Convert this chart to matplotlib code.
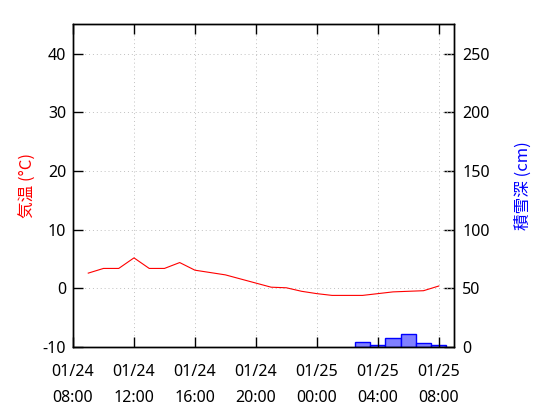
import matplotlib
matplotlib.use("Agg")
import matplotlib.pyplot as plt

plt.rcParams['font.family'] = ['Noto Sans', 'Noto Sans CJK JP', 'DejaVu Sans']
plt.rcParams['axes.unicode_minus'] = False

# hours after 01/24 08:00
temp_hours = list(range(1, 25))
temp_values = [2.6, 3.4, 3.4, 5.2, 3.4, 3.4, 4.4, 3.1, 2.7, 2.3, 1.6, 0.9,
               0.2, 0.1, -0.5, -0.9, -1.2, -1.2, -1.2, -0.9, -0.6, -0.5, -0.4, 0.4]

snow_hours = [19, 20, 21, 22, 23, 24]
snow_values = [4, 2, 8, 11, 3, 2]

tick_hours = [0, 4, 8, 12, 16, 20, 24]
tick_labels = ['01/24\n08:00', '01/24\n12:00', '01/24\n16:00', '01/24\n20:00',
               '01/25\n00:00', '01/25\n04:00', '01/25\n08:00']

fig = plt.figure(figsize=(5.6, 4.2), dpi=100)
ax = fig.add_axes([0.1304, 0.1738, 0.6803, 0.7679])
ax2 = ax.twinx()

ax.set_zorder(ax2.get_zorder() + 1)
ax.patch.set_visible(False)

ax2.bar(snow_hours, snow_values, width=1.0, color='#8080ff', edgecolor='#0000ff', linewidth=1.0)
ax.plot(temp_hours, temp_values, color='#ff0000', linewidth=0.8)

ax.set_xlim(0, 25)
ax.set_ylim(-10, 45)
ax2.set_ylim(0, 275)

ax.set_xticks(tick_hours)
ax.set_xticklabels(tick_labels, linespacing=1.85)
ax.set_yticks(range(-10, 41, 10))
ax2.set_yticks(range(0, 251, 50))

ax.grid(True, linestyle=(0, (1, 3)), color='#c0c0c0', linewidth=0.7)

ax.tick_params(axis='x', direction='in', length=7, width=1, top=True, labelsize=11.5, pad=12)
ax.tick_params(axis='y', direction='in', length=7, width=1, labelsize=11.5, pad=5)
ax2.tick_params(axis='y', direction='in', length=7, width=1, labelsize=11.5, pad=6)

for a in (ax, ax2):
    for s in a.spines.values():
        s.set_linewidth(1.0)

ax.set_ylabel('気温 (°C)', color='#ff0000', fontsize=12,
              family=['Noto Sans CJK JP', 'DejaVu Sans'], labelpad=4)
ax2.set_ylabel('積雪深 (cm)', color='#0000ff', fontsize=12,
               family=['Noto Sans CJK JP', 'DejaVu Sans'], labelpad=18)

fig.savefig('out.png', dpi=100)
